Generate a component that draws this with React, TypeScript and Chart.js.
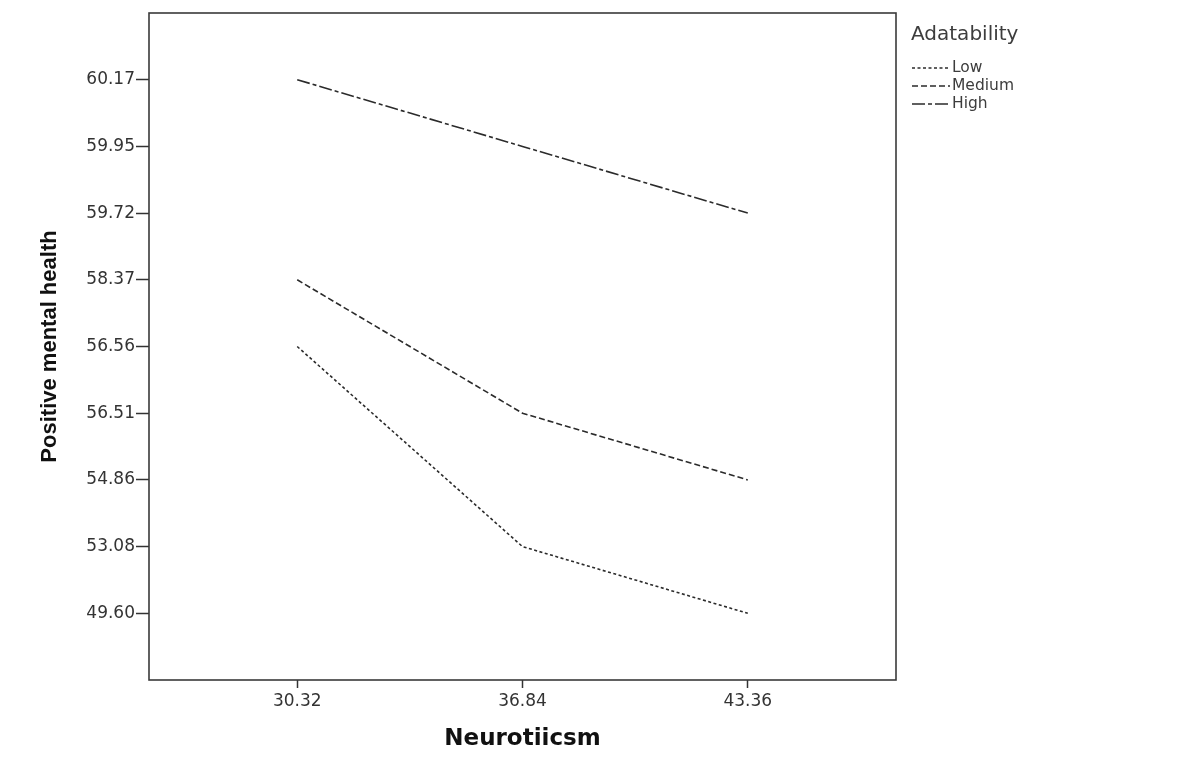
import React, { useEffect, useRef } from "react";
import { Chart, registerables } from "chart.js";

Chart.register(...registerables);

const xTicks = [30.32, 36.84, 43.36];
const yTickLabels = ["60.17", "59.95", "59.72", "58.37", "56.56", "56.51", "54.86", "53.08", "49.60"];
const seriesNames = ["Low", "Medium", "High"];
const lowValues = [56.56, 53.08, 49.6];
const mediumValues = [58.37, 56.51, 54.86];
const highValues = [60.17, 59.95, 59.72];

const xTitle = "Neurotiicsm";
const yTitle = "Positive mental health";
const legendTitle = "Adatability";

const dashes = [[3, 2.5], [6, 3], [13, 3, 4, 3]];
const LINE = "#2b2b2b";

const yLabels = [" ", ...yTickLabels, "  "];

function toPoints(vals: number[]) {
  return vals.map((v, i) => ({ x: xTicks[i], y: v.toFixed(2) }));
}

export default function App() {
  const ref = useRef<HTMLCanvasElement | null>(null);
  useEffect(() => {
    document.body.style.margin = "0";
    document.body.style.overflow = "hidden";
    const canvas = ref.current!;
    const allVals = [lowValues, mediumValues, highValues];

    const boxPlugin = {
      id: "boxAndLegend",
      afterDraw(chart: any) {
        const { ctx, chartArea } = chart;
        ctx.save();
        ctx.strokeStyle = "#3a3a3a";
        ctx.lineWidth = 1.6;
        ctx.setLineDash([]);
        ctx.strokeRect(chartArea.left, chartArea.top, chartArea.right - chartArea.left, chartArea.bottom - chartArea.top);
        // legend
        ctx.fillStyle = "#3d3d3d";
        ctx.textBaseline = "middle";
        ctx.textAlign = "left";
        ctx.font = "20px 'DejaVu Sans'";
        ctx.fillText(legendTitle, 911, 35);
        ctx.font = "15.5px 'DejaVu Sans'";
        const ys = [68, 86, 104];
        seriesNames.forEach((n, i) => {
          ctx.strokeStyle = LINE;
          ctx.lineWidth = 1.3;
          ctx.setLineDash(dashes[i]);
          ctx.beginPath();
          ctx.moveTo(912, ys[i]);
          ctx.lineTo(950, ys[i]);
          ctx.stroke();
          ctx.fillStyle = "#3d3d3d";
          ctx.fillText(n, 952, ys[i]);
        });
        ctx.restore();
      },
    };

    const chart = new Chart(canvas, {
      type: "line",
      data: {
        datasets: seriesNames.map((n, i) => ({
          label: n,
          data: toPoints(allVals[i]) as any,
          borderColor: LINE,
          borderWidth: 1.6,
          borderDash: dashes[i],
          pointRadius: 0,
          tension: 0,
          fill: false,
        })),
      },
      options: {
        animation: false,
        responsive: false,
        maintainAspectRatio: false,
        layout: { padding: { top: 13, right: 301, left: 0, bottom: 0 } },
        plugins: { legend: { display: false }, tooltip: { enabled: false } },
        scales: {
          x: {
            type: "linear",
            min: 26.03,
            max: 47.65,
            afterBuildTicks: (scale: any) => {
              scale.ticks = xTicks.map((v) => ({ value: v }));
            },
            afterFit: (scale: any) => {
              scale.height = 83;
            },
            ticks: {
              callback: (v: any) => Number(v).toFixed(2),
              font: { family: "'DejaVu Sans'", size: 17 },
              color: "#333",
              padding: 3,
              maxRotation: 0,
              autoSkip: false,
            },
            grid: { drawOnChartArea: false, tickLength: 8, tickColor: "#333", tickWidth: 1.5 },
            border: { display: false },
            title: {
              display: true,
              text: xTitle,
              font: { family: "'DejaVu Sans'", size: 23, weight: "bold" },
              color: "#111",
              padding: { top: 0, bottom: 10 },
            },
          },
          y: {
            type: "category",
            labels: yLabels,
            offset: false,
            afterFit: (scale: any) => {
              scale.width = 149;
            },
            ticks: {
              font: { family: "'DejaVu Sans'", size: 17 },
              color: "#333",
              padding: 1,
              autoSkip: false,
            },
            grid: {
              drawOnChartArea: false,
              tickLength: 13,
              tickWidth: 1.5,
              tickColor: (c: any) => (c.tick && String(c.tick.label).trim() === "" ? "rgba(0,0,0,0)" : "#333"),
            },
            border: { display: false },
            title: {
              display: true,
              text: yTitle,
              font: { family: "'Liberation Sans'", size: 22, weight: "bold" },
              color: "#111",
              padding: { top: 37, bottom: 0 },
            },
          },
        },
      },
      plugins: [boxPlugin],
    });
    return () => chart.destroy();
  }, []);
  return (
    <div style={{ width: 1197, height: 763, background: "#fff" }}>
      <canvas ref={ref} width={1197} height={763} style={{ display: "block" }} />
    </div>
  );
}
